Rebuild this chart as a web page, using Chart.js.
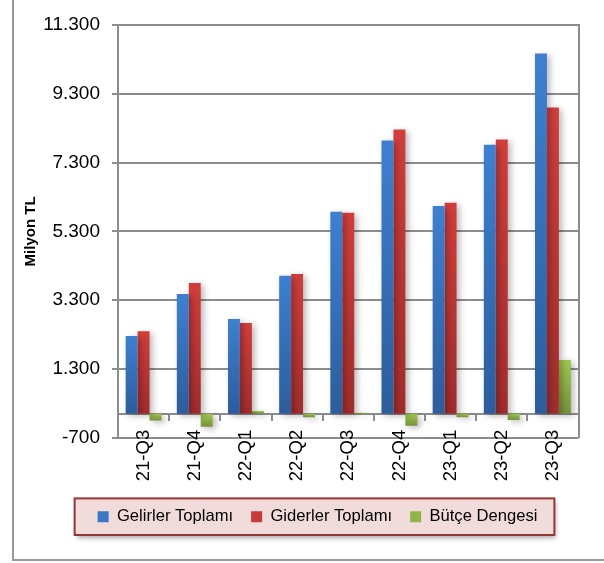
<!DOCTYPE html>
<html>
<head>
<meta charset="utf-8">
<script src="https://cdn.jsdelivr.net/npm/chart.js@4.4.1/dist/chart.umd.min.js"></script>
<style>
  html, body { margin: 0; padding: 0; background: #fff; overflow: hidden; }
  #wrap { position: relative; width: 604px; height: 563px; }
  #frame { position: absolute; left: 12px; top: -10px; width: 700px; height: 571px;
           border-left: 2px solid #9a9a9a; border-bottom: 2px solid #9a9a9a; box-sizing: border-box; }
  canvas { position: absolute; left: 0; top: 0; }
</style>
</head>
<body>
<div id="wrap">
  <div id="frame"></div>
  <canvas id="butce" width="604" height="563"></canvas>
</div>
<script>
// çeyrekler
const ceyrekler = ["21-Q3", "21-Q4", "22-Q1", "22-Q2", "22-Q3", "22-Q4", "23-Q1", "23-Q2", "23-Q3"];
// milyon TL
const gelirler = [2260, 3480, 2750, 4010, 5870, 7940, 6040, 7820, 10470];
const giderler = [2400, 3800, 2640, 4060, 5840, 8260, 6130, 7970, 8900];
const denge = [-200, -380, 80, -100, 30, -350, -100, -180, 1560];
// y ekseni etiketleri
const yTicks = [-700, 1300, 3300, 5300, 7300, 9300, 11300];

const GRID = "#8c8c8c";
Chart.defaults.font.family = "'Liberation Sans', Arial, sans-serif";
Chart.defaults.color = "#000";

function fmt(v) {
  const s = Math.abs(v).toString().replace(/\B(?=(\d{3})+(?!\d))/g, ".");
  return (v < 0 ? "-" : "") + s;
}

// her çubuk için yukarıdan aşağı gradyan
function grad(light, dark) {
  return (c) => {
    const chart = c.chart;
    if (!chart.chartArea || c.type !== "data") return dark;
    const y = chart.scales.y;
    const p0 = y.getPixelForValue(0);
    const p1 = y.getPixelForValue(c.parsed.y);
    const top = Math.min(p0, p1), bot = Math.max(p0, p1);
    if (bot - top < 1) return dark;
    const g = chart.ctx.createLinearGradient(0, top, 0, bot);
    g.addColorStop(0, light);
    g.addColorStop(1, dark);
    return g;
  };
}

const flat = ["#3a77c6", "#c73a38", "#8db646"];

const barShadow = {
  id: "barShadow",
  beforeDatasetsDraw(chart) {
    const c = chart.ctx;
    c.save();
    c.shadowColor = "rgba(0,0,0,0.28)";
    c.shadowBlur = 6;
    c.shadowOffsetX = 3;
    c.shadowOffsetY = 2;
  },
  afterDatasetsDraw(chart) {
    chart.ctx.restore();
  }
};

const legendFrame = {
  id: "legendFrame",
  beforeDraw(chart) {
    const lg = chart.legend;
    if (!lg || !lg.legendHitBoxes || !lg.legendHitBoxes.length) return;
    const hb = lg.legendHitBoxes;
    const last = hb[hb.length - 1];
    const x0 = hb[0].left - 23;
    const x1 = last.left + last.width + 17;
    const y0 = hb[0].top - 10;
    const y1 = hb[0].top + hb[0].height + 10;
    const c = chart.ctx;
    c.save();
    c.shadowColor = "rgba(0,0,0,0.35)";
    c.shadowBlur = 5;
    c.shadowOffsetX = 2;
    c.shadowOffsetY = 3;
    c.fillStyle = "#f2dcdb";
    c.fillRect(x0, y0, x1 - x0, y1 - y0);
    c.restore();
    c.save();
    c.strokeStyle = "#953735";
    c.lineWidth = 2;
    c.strokeRect(x0, y0, x1 - x0, y1 - y0);
    c.restore();
  }
};

const ctx = document.getElementById("butce").getContext("2d");
new Chart(ctx, {
  type: "bar",
  data: {
    labels: ceyrekler,
    datasets: [
      { label: "Gelirler Toplamı", data: gelirler, backgroundColor: grad("#3d80d2", "#2c5d9c") },
      { label: "Giderler Toplamı", data: giderler, backgroundColor: grad("#d33d3a", "#a22c2b") },
      { label: "Bütçe Dengesi", data: denge, backgroundColor: grad("#9fc64e", "#76923a") }
    ]
  },
  options: {
    responsive: false,
    animation: false,
    devicePixelRatio: 1,
    layout: { padding: { left: 31, right: 0, top: 25, bottom: 28 } },
    datasets: { bar: { categoryPercentage: 0.7, barPercentage: 1.0, borderWidth: 0 } },
    scales: {
      // sıfır çizgisindeki kategori ekseni
      x: {
        type: "category",
        position: { y: 0 },
        offset: true,
        ticks: { display: false },
        grid: { display: true, drawOnChartArea: false, offset: true, tickLength: 6, color: GRID, lineWidth: 2 },
        border: { display: true, color: GRID, width: 2 }
      },
      // etiketler: en alt çizginin hemen üstünden başlar
      xl: {
        type: "category",
        axis: "x",
        position: { y: -700 },
        offset: true,
        grid: { display: false, drawTicks: false },
        border: { display: false },
        ticks: { autoSkip: false, maxRotation: 90, minRotation: 90, padding: -8, font: { size: 18.5 } }
      },
      // etiketler için yer ayıran boş eksen
      xb: {
        type: "category",
        axis: "x",
        position: "bottom",
        grid: { display: false, drawTicks: false },
        border: { display: false },
        ticks: { display: false },
        afterFit: (s) => { s.height = 52.6; }
      },
      y: {
        min: -700,
        max: 11300,
        afterBuildTicks: (s) => { s.ticks = yTicks.map(v => ({ value: v })); },
        ticks: { callback: (v) => fmt(v), font: { size: 19 }, padding: 12 },
        grid: { color: GRID, lineWidth: 2, tickLength: 6 },
        border: { color: GRID, width: 2 },
        title: { display: true, text: "Milyon TL", font: { size: 15, weight: "bold" }, padding: { top: -9, bottom: 0 } },
        afterFit: (s) => { s.width = 87; }
      },
      yr: {
        axis: "y",
        position: "right",
        min: -700,
        max: 11300,
        ticks: { display: false },
        grid: { display: false, drawTicks: false },
        border: { display: true, color: GRID, width: 2 },
        afterFit: (s) => { s.width = 25.5; }
      }
    },
    plugins: {
      title: { display: false },
      tooltip: { enabled: false },
      legend: {
        position: "bottom",
        labels: {
          boxWidth: 11,
          boxHeight: 11,
          padding: 18,
          font: { size: 16.6 },
          generateLabels: (chart) => {
            const items = Chart.defaults.plugins.legend.labels.generateLabels(chart);
            items.forEach((it, i) => { it.fillStyle = flat[i]; it.strokeStyle = flat[i]; it.lineWidth = 0; });
            return items;
          }
        }
      }
    }
  },
  plugins: [barShadow, legendFrame]
});
</script>
</body>
</html>
